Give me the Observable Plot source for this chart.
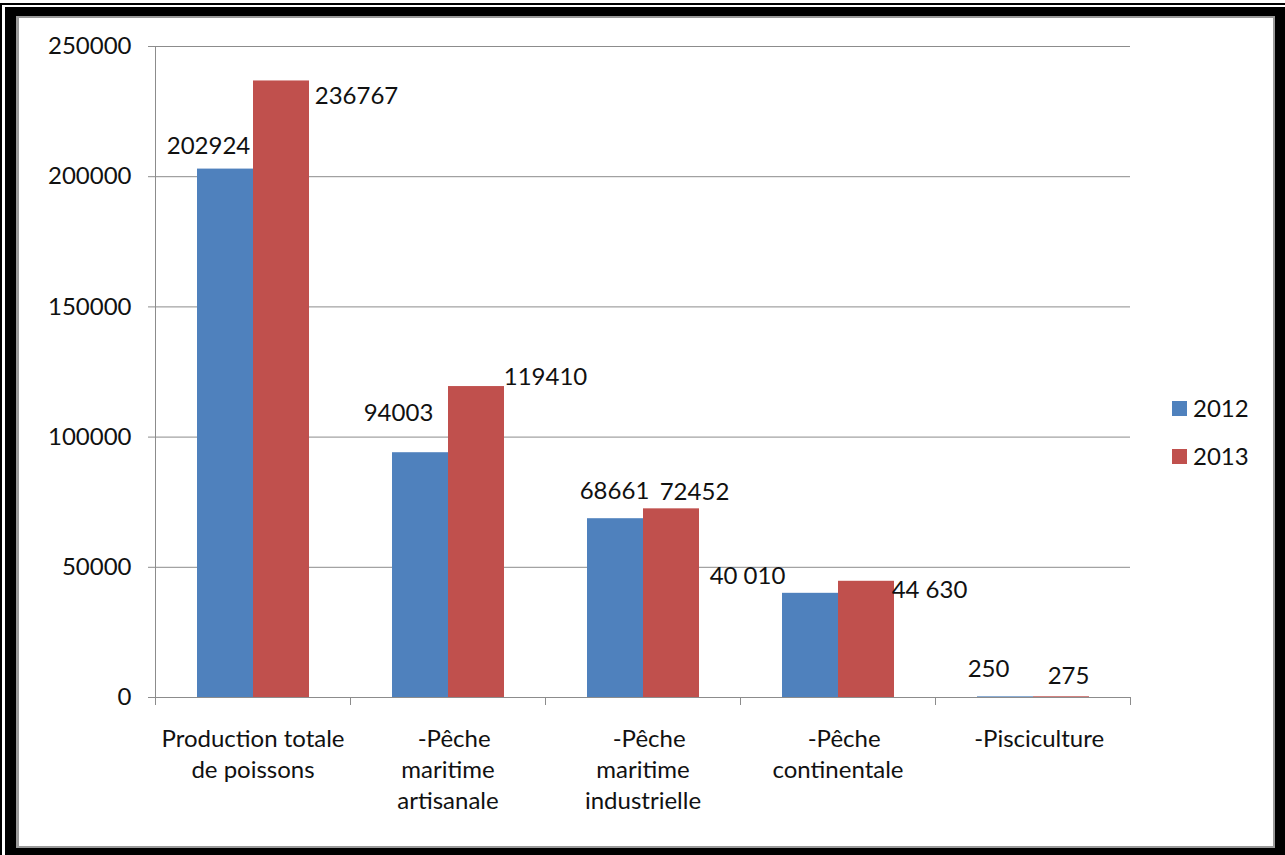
<!DOCTYPE html>
<html><head><meta charset="utf-8">
<script src="https://cdn.jsdelivr.net/npm/d3@7"></script>
<script src="https://cdn.jsdelivr.net/npm/@observablehq/plot@0.6"></script>
<style>
html,body{margin:0;padding:0;background:#fff;width:1285px;height:855px;overflow:hidden;font-family:Lato,sans-serif;}
.blk{position:absolute;}
#panel svg{display:block;}
.lg-sw{position:absolute;width:15px;height:15px;}
.lg-tx{position:absolute;font-family:Lato,sans-serif;font-size:24px;line-height:30px;height:30px;color:#111;white-space:nowrap;}
</style></head><body>
<div class="blk" style="left:0;top:3px;width:1285px;height:852px;background:#000"></div>
<div class="blk" style="left:2px;top:5px;width:1283px;height:850px;background:#fff"></div>
<div class="blk" style="left:5px;top:7px;width:1280px;height:848px;background:#000"></div>
<div class="blk" style="left:16px;top:16px;width:1259px;height:832px;background:#9a9a9a"></div>
<div class="blk" id="panel" style="left:19px;top:18px;width:1254px;height:828px;background:#fff"></div>
<div id="legend"></div>
<script>
// ---- data ----
const categories = ["Production totale de poissons", "-Pêche maritime artisanale", "-Pêche maritime industrielle", "-Pêche continentale", "-Pisciculture"];
const tickLabels = ["Production totale\nde poissons", "\u00a0\u00a0-Pêche\nmaritime\nartisanale", "\u00a0\u00a0-Pêche\nmaritime\nindustrielle", "\u00a0\u00a0-Pêche\ncontinentale", "\u00a0\u00a0-Pisciculture"];
const years = ["2012", "2013"];
const values2012 = [202924, 94003, 68661, 40010, 250];
const values2013 = [236767, 119410, 72452, 44630, 275];
const labels2012 = ["202924", "94003", "68661", "40 010", "250"];
const labels2013 = ["236767", "119410", "72452", "44 630", "275"];
const yTicks = [0, 50000, 100000, 150000, 200000, 250000];
const colors = ["#4F81BD", "#C0504D"];
// label nudges (px) from the top-centre of each bar (labels were moved by hand in the original)
const nudge2012 = [[-17, -23], [-22, -39], [-1, -27], [-63, -17], [-17, -28]];
const nudge2013 = [[75, 15], [69, -9], [23, -17], [63, 9], [7, -20]];

const rows = [];
categories.forEach((c, i) => {
  rows.push({category: c, year: years[0], value: values2012[i], label: labels2012[i], nudge: nudge2012[i]});
  rows.push({category: c, year: years[1], value: values2013[i], label: labels2013[i], nudge: nudge2013[i]});
});

const grid = "#8c8c8c";
const chart = Plot.plot({
  width: 1254, height: 828,
  marginLeft: 135, marginRight: 143, marginTop: 28, marginBottom: 149,
  style: {fontFamily: "Lato, sans-serif", fontSize: "24px", color: "#111", background: "transparent", overflow: "visible"},
  fx: {domain: categories, padding: 0, label: null},
  x: {domain: years, paddingInner: 0, paddingOuter: 0.74, axis: null},
  y: {domain: [0, 250000], label: null},
  color: {domain: years, range: colors},
  marks: [
    Plot.ruleY(yTicks.filter(d => d > 0), {stroke: grid}),
    Plot.barY(rows, {fx: "category", x: "year", y: "value", fill: "year"}),
    Plot.ruleY([0], {stroke: grid}),
    Plot.frame({anchor: "left", stroke: grid, facetAnchor: "left"}),
    Plot.frame({anchor: "left", stroke: grid, insetTop: 651, insetBottom: -7}),
    Plot.frame({anchor: "right", stroke: grid, insetTop: 651, insetBottom: -7}),
    Plot.axisY({ticks: yTicks, tickFormat: d => String(d), tickSize: 7, tickPadding: 17, stroke: grid, fontSize: 24, label: null}),
    Plot.axisFx({anchor: "bottom", tickSize: 0, tickPadding: 28, tickFormat: c => tickLabels[categories.indexOf(c)], fontSize: 24, lineHeight: 1.29, label: null}),
    ...rows.map(r => Plot.text([r], {fx: "category", x: "year", y: "value", text: "label", dx: r.nudge[0], dy: r.nudge[1], fontSize: 24, fill: "#111"}))
  ]
});
document.getElementById("panel").appendChild(chart);

// legend
const legend = document.getElementById("legend");
const legendTop = [401, 449];
years.forEach((y, i) => {
  const sw = document.createElement("div");
  sw.className = "lg-sw";
  sw.style.left = "1172px"; sw.style.top = legendTop[i] + "px"; sw.style.background = colors[i];
  legend.appendChild(sw);
  const tx = document.createElement("div");
  tx.className = "lg-tx";
  tx.style.left = "1193px"; tx.style.top = (legendTop[i] + 7.5 - 15.7) + "px";
  tx.textContent = y;
  legend.appendChild(tx);
});
</script>
</body></html>
